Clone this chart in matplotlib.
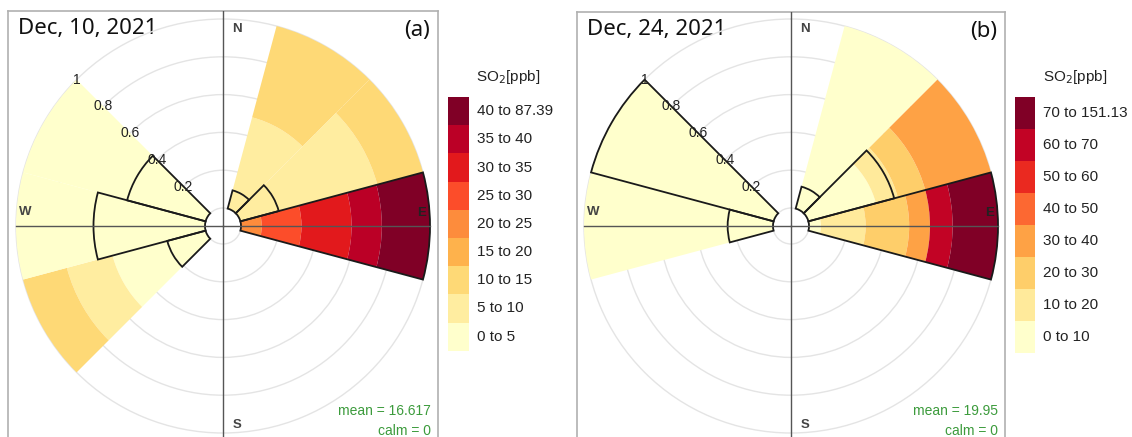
import numpy as np
import matplotlib
matplotlib.use("Agg")
import matplotlib.pyplot as plt
from matplotlib.patches import Rectangle

# wind sectors (deg, centre of 30 deg bins)
dirs_a = [30, 60, 90, 240, 270, 300]
bins_a = ["0 to 5", "5 to 10", "10 to 15", "15 to 20", "20 to 25",
          "25 to 30", "30 to 35", "35 to 40", "40 to 87.39"]
# share of each concentration bin per sector (each row sums to 1)
frac_a = [
    [0.00, 0.50, 0.50, 0, 0, 0, 0, 0, 0],
    [0.00, 0.75, 0.25, 0, 0, 0, 0, 0, 0],
    [0, 0, 0, 0, 0.11, 0.21, 0.265, 0.16, 0.255],
    [0.51, 0.25, 0.24, 0, 0, 0, 0, 0, 0],
    [1.00, 0, 0, 0, 0, 0, 0, 0, 0],
    [1.00, 0, 0, 0, 0, 0, 0, 0, 0],
]
freq_a = [0.10, 0.21, 1.00, 0.21, 0.59, 0.43]

dirs_b = [30, 60, 90, 270, 300]
bins_b = ["0 to 10", "10 to 20", "20 to 30", "30 to 40", "40 to 50",
          "50 to 60", "60 to 70", "70 to 151.13"]
frac_b = [
    [1.00, 0, 0, 0, 0, 0, 0, 0],
    [0.37, 0.12, 0.15, 0.36, 0, 0, 0, 0],
    [0.063, 0.237, 0.23, 0.11, 0, 0, 0.12, 0.24],
    [1.00, 0, 0, 0, 0, 0, 0, 0],
    [1.00, 0, 0, 0, 0, 0, 0, 0],
]
freq_b = [0.12, 0.47, 1.00, 0.24, 1.00]

W, H = 1132, 437
PX = 189.0          # pixels per unit of normalised radius
OFF = 18 / PX       # hole in the middle
green = "#3c9b3c"
small = ["Liberation Sans", "DejaVu Sans"]

fig = plt.figure(figsize=(W / 100, H / 100), dpi=100)


def rect(left, top, w, h):
    return [left / W, 1 - (top + h) / H, w / W, h / H]


def rose(cx, cy, half, dirs, frac, freq, nbins, date, tag, mean):
    cols = plt.cm.YlOrRd(np.linspace(0, 1, nbins))

    frame = fig.add_axes(rect(cx - half, cy - half, 2 * half, 2 * half))
    frame.set_xlim(-half, half)
    frame.set_ylim(-half, half)
    frame.set_xticks([])
    frame.set_yticks([])
    for s in frame.spines.values():
        s.set_color("#b0b0b0")
        s.set_linewidth(1.2)
    frame.text(-half + 10, 197, date, fontsize=16, family="Noto Sans",
               va="center", ha="left", color="#111")
    frame.text(half - 8, 195, tag, fontsize=16, family="Noto Sans",
               va="center", ha="right", color="#111")
    frame.text(half - 7, -185, "mean = " + mean, fontsize=10, family=small,
               color=green, ha="right", va="center")
    frame.text(half - 7, -205, "calm = 0", fontsize=10, family=small,
               color=green, ha="right", va="center")

    ax = fig.add_axes(rect(cx - half, cy - half, 2 * half, 2 * half),
                      projection="polar")
    ax.patch.set_alpha(0)
    ax.set_theta_zero_location("N")
    ax.set_theta_direction(-1)
    rmax = half / PX
    ax.set_ylim(0, rmax)
    ax.set_xticks([])
    ax.set_yticks([OFF + 0.2 * k for k in range(6)])
    ax.set_yticklabels([])
    ax.yaxis.grid(True, color="#e4e4e4", linewidth=1.0)
    ax.set_axisbelow(True)
    ax.spines["polar"].set_visible(False)

    width = np.radians(30)
    for d, row in zip(dirs, frac):
        base = OFF
        for i, f in enumerate(row):
            if f > 0:
                ax.bar(np.radians(d), f, width=width, bottom=base,
                       color=cols[i], edgecolor="none", zorder=2)
                base += f
    for d, f in zip(dirs, freq):
        ax.bar(np.radians(d), f, width=width, bottom=OFF, fill=False,
               edgecolor="#1a1a1a", linewidth=1.3, zorder=3)

    # cross hair
    ax.plot([0, 0], [0, rmax], color="#555", lw=1.0, zorder=4)
    ax.plot([np.pi, np.pi], [0, rmax], color="#555", lw=1.0, zorder=4)
    ax.plot([np.pi / 2] * 2, [0, OFF + 1.0], color="#555", lw=1.0, zorder=4)
    ax.plot([1.5 * np.pi] * 2, [0, OFF + 1.0], color="#555", lw=1.0, zorder=4)

    for v, lab in zip([0.2, 0.4, 0.6, 0.8, 1.0], ["0.2", "0.4", "0.6", "0.8", "1"]):
        ax.text(np.radians(315), OFF + v, lab, fontsize=10, family=small,
                ha="center", va="center", color="#222", zorder=5)

    for lab, th, r in [("N", 4.0, 1.045), ("E", 86.3, 1.055),
                       ("S", 176.0, 1.055), ("W", 274.0, 1.05)]:
        ax.text(np.radians(th), r, lab, fontsize=9.5, family=small,
                fontweight="bold", ha="center", va="center",
                color="#222" if lab == "E" else "#444", zorder=5)
    return cols


def legend(x0, bw, top, bh, labels, cols, title_x):
    lg = fig.add_axes([0, 0, 1, 1])
    lg.set_xlim(0, W)
    lg.set_ylim(H, 0)
    lg.axis("off")
    n = len(labels)
    for i in range(n):
        y = top + (n - 1 - i) * bh
        lg.add_patch(Rectangle((x0, y), bw, bh, facecolor=cols[i],
                               edgecolor="none"))
        lg.text(x0 + bw + 8, y + bh / 2, labels[i], fontsize=11,
                family=small, va="center", ha="left", color="#222")
    lg.text(title_x, 77, "SO$_2$[ppb]", fontsize=11, family=small,
            va="center", ha="left", color="#222")


cols_a = rose(223, 226, 215, dirs_a, frac_a, freq_a, len(bins_a),
              "Dec, 10, 2021", "(a)", "16.617")
cols_b = rose(791, 226, 214, dirs_b, frac_b, freq_b, len(bins_b),
              "Dec, 24, 2021", "(b)", "19.95")

legend(448, 21, 97, 28.2, bins_a, cols_a, 476)
legend(1015, 20, 97, 32.0, bins_b, cols_b, 1043)

fig.savefig("out.png", dpi=100)
